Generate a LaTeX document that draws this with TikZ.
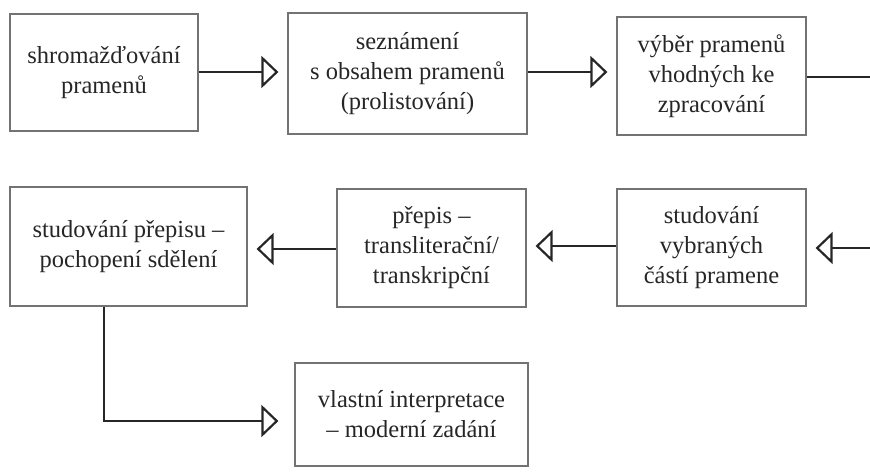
\documentclass[tikz,border=0pt]{standalone}
\usepackage{fontspec}
\setmainfont{Liberation Serif}
\usetikzlibrary{arrows.meta,calc}
\begin{document}
\begin{tikzpicture}[x=1pt,y=-1pt,
  box/.style={draw=black!55, line width=1.2pt, align=center, inner sep=0pt,
    text=black!85, font=\fontsize{24.5}{30}\selectfont},
  conn/.style={draw=black!85, line width=2.6pt,
    -{Triangle[open, length=17pt, width=32pt, line width=2.2pt]}, shorten >=9pt},
  plain/.style={draw=black!85, line width=2.6pt}]
\useasboundingbox (0,0) rectangle (870,476);
\node[box, minimum width=188pt, minimum height=117pt] (b1) at (104,72.5) {shromažďování\\pramenů};
\node[box, minimum width=239pt, minimum height=121pt] (b2) at (407.5,73.5) {seznámení\\s obsahem pramenů\\(prolistování)};
\node[box, minimum width=189pt, minimum height=118pt] (b3) at (711.5,76) {výběr pramenů\\vhodných ke\\zpracování};
\node[box, minimum width=237pt, minimum height=119pt] (b4) at (128.5,246.5) {studování přepisu –\\pochopení sdělení};
\node[box, minimum width=189pt, minimum height=118pt] (b5) at (431.5,248) {přepis –\\transliterační/\\transkripční};
\node[box, minimum width=189pt, minimum height=117pt] (b6) at (711.5,247.5) {studování\\vybraných\\částí pramene};
\node[box, minimum width=233pt, minimum height=103pt] (b7) at (411.5,414.5) {vlastní interpretace\\– moderní zadání};
\coordinate (r1) at (870,77);
\coordinate (r2) at (870,248);
\coordinate (elb) at (104,421);
\draw[conn] (b1.east |- 0,72) -- (b2.west |- 0,72);
\draw[conn] (b2.east |- 0,72) -- (b3.west |- 0,72);
\draw[plain] (b3.east |- r1) -- (r1);
\draw[conn] (r2) -- (b6.east |- r2);
\draw[conn] (b6.west |- 0,246) -- (b5.east |- 0,246);
\draw[conn] (b5.west |- 0,249) -- (b4.east |- 0,249);
\draw[conn, shorten >=16pt] (b4.south -| elb) -- (elb) -- (b7.west |- elb);
\end{tikzpicture}
\end{document}
